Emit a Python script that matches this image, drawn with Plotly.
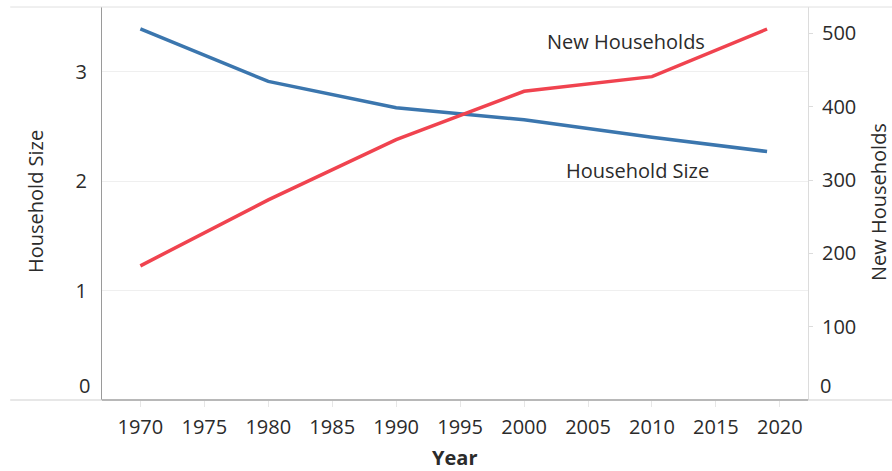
import plotly.graph_objects as go

years = [1970, 1980, 1990, 2000, 2010, 2019]
household_size = [3.39, 2.91, 2.67, 2.56, 2.40, 2.27]
new_households = [183, 273, 355, 421, 441, 506]

x_ticks = list(range(1970, 2021, 5))
left_ticks = [1, 2, 3]
right_ticks = [100, 200, 300, 400, 500]

BLUE = "#3b76ae"
RED = "#f0434f"
FONT = "Open Sans"
TXT = "#2b2b2b"
TICK_SIZE = 20
TEXT_SIZE = 20

fig = go.Figure()
fig.add_trace(go.Scatter(x=years, y=household_size, mode="lines", name="Household Size",
                         line=dict(color=BLUE, width=3.5), yaxis="y"))
fig.add_trace(go.Scatter(x=years, y=new_households, mode="lines", name="New Households",
                         line=dict(color=RED, width=3.5), yaxis="y2"))

fig.update_layout(
    width=892, height=471,
    margin=dict(l=102, r=84, t=7, b=71, autoexpand=False),
    paper_bgcolor="white", plot_bgcolor="white",
    showlegend=False,
    font=dict(family=FONT, size=TICK_SIZE, color=TXT),
    xaxis=dict(range=[1967.0, 2022.2], tickvals=x_ticks, showgrid=False, zeroline=False,
               showline=False, ticks="outside", ticklen=6, tickcolor="#e6e6e6",
               ticklabelstandoff=3, automargin=False,
               tickfont=dict(family=FONT, size=TICK_SIZE, color=TXT)),
    yaxis=dict(range=[0, 3.59], tickvals=left_ticks, showgrid=True, gridcolor="#efefef",
               gridwidth=1, zeroline=False, showline=True, linecolor="#9a9a9a", linewidth=1,
               ticks="", ticklabelstandoff=10, automargin=False,
               tickfont=dict(family=FONT, size=TICK_SIZE, color=TXT)),
    yaxis2=dict(range=[0, 536], tickvals=right_ticks, overlaying="y", side="right",
                showgrid=False, zeroline=False, showline=True, linecolor="#dcdcdc", linewidth=1,
                ticks="outside", ticklen=4, tickcolor="#dcdcdc", ticklabelstandoff=5,
                automargin=False, tickfont=dict(family=FONT, size=TICK_SIZE, color=TXT)),
)

shapes = [
    dict(type="line", xref="paper", yref="paper", x0=-0.13, x1=1.12, y0=1, y1=1,
         line=dict(color="#e0e0e0", width=1)),
    dict(type="line", xref="paper", yref="paper", x0=-0.13, x1=1.12, y0=0, y1=0,
         line=dict(color="#cfcfcf", width=1)),
    dict(type="line", xref="paper", yref="paper", x0=0, x1=1, y0=0, y1=0,
         line=dict(color="#8a8a8a", width=1.2)),
]
fig.update_layout(shapes=shapes)


def px_x(p):
    return (p - 102) / 706


def px_y(p):
    return (400 - p) / 393


annotations = [
    dict(text="New Households", xref="paper", yref="paper", x=px_x(626), y=px_y(41),
         xanchor="center", yanchor="middle", showarrow=False,
         font=dict(size=TEXT_SIZE, color=TXT)),
    dict(text="Household Size", xref="paper", yref="paper", x=px_x(637), y=px_y(170),
         xanchor="center", yanchor="middle", showarrow=False,
         font=dict(size=TEXT_SIZE, color=TXT)),
    dict(text="Household Size", xref="paper", yref="paper", x=px_x(35), y=px_y(202),
         xanchor="center", yanchor="middle", textangle=-90, showarrow=False,
         font=dict(size=TEXT_SIZE, color=TXT)),
    dict(text="New Households", xref="paper", yref="paper", x=px_x(878), y=px_y(202),
         xanchor="center", yanchor="middle", textangle=-90, showarrow=False,
         font=dict(size=TEXT_SIZE, color=TXT)),
    dict(text="<b>Year</b>", xref="paper", yref="paper", x=px_x(454), y=px_y(458),
         xanchor="center", yanchor="middle", showarrow=False,
         font=dict(size=TEXT_SIZE, color=TXT)),
    dict(text="0", xref="paper", yref="paper", x=px_x(92), y=px_y(385),
         xanchor="right", yanchor="middle", showarrow=False,
         font=dict(size=TICK_SIZE, color=TXT)),
    dict(text="0", xref="paper", yref="paper", x=px_x(818), y=px_y(385),
         xanchor="left", yanchor="middle", showarrow=False,
         font=dict(size=TICK_SIZE, color=TXT)),
]
fig.update_layout(annotations=annotations)

fig.write_html("out.html", config={"displayModeBar": False},
               post_script="document.body.style.margin='0';")
